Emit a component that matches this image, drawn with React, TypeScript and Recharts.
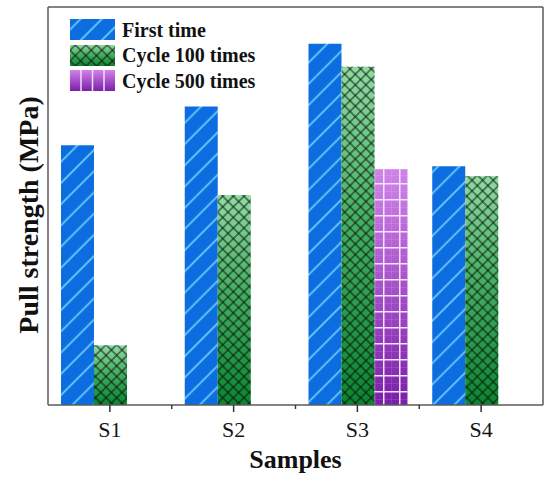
import React from 'react';
import { BarChart, Bar, XAxis, YAxis, Legend } from 'recharts';

const categories = ['S1', 'S2', 'S3', 'S4'];
const firstTime = [2.61, 3.0, 3.63, 2.4];
const cycle100 = [0.6, 2.11, 3.4, 2.3];
const cycle500: (number | null)[] = [null, null, 2.37, null];
const seriesNames = ['First time', 'Cycle 100 times', 'Cycle 500 times'];
const yDomain: [number, number] = [0, 4];

const data = categories.map((name, i) => ({
  name,
  first: firstTime[i],
  c100: cycle100[i],
  c500: cycle500[i],
}));

const SERIF = '"Liberation Serif", "Times New Roman", Times, serif';
const FRAME = '#5a5a5a';

const GreenShape = (props: any) => {
  const { x, y, width, height } = props;
  if (!height || height <= 0) return null;
  return (
    <g>
      <rect x={x} y={y} width={width} height={height} fill="url(#greenGrad)" />
      <rect x={x} y={y} width={width} height={height} fill="url(#crossPat)" />
    </g>
  );
};

const PurpleShape = (props: any) => {
  const { x, y, width, height } = props;
  if (!height || height <= 0) return null;
  return (
    <g>
      <rect x={x} y={y} width={width} height={height} fill="url(#purpleGrad)" />
      <rect x={x} y={y} width={width} height={height} fill="url(#gridPat)" />
    </g>
  );
};

const XTick = (props: any) => {
  const { x, y, payload, index } = props;
  const off = payload && payload.offset ? payload.offset : 62;
  return (
    <g>
      <text x={x} y={y + 23} textAnchor="middle" fontFamily={SERIF} fontSize={22} fill="#151515">
        {payload.value}
      </text>
      {index > 0 && (
        <line x1={x - off} x2={x - off} y1={y - 9} y2={y - 5} stroke="#333" strokeWidth={1.4} />
      )}
    </g>
  );
};

const XLabel = (p: any) => {
  const vb = p && p.viewBox ? p.viewBox : { x: 48, y: 405, width: 495, height: 79 };
  return (
    <text
      x={vb.x + vb.width / 2}
      y={vb.y + 63}
      textAnchor="middle"
      fontFamily={SERIF}
      fontWeight="bold"
      fontSize={26}
      fill="#111"
    >
      Samples
    </text>
  );
};

const YLabel = (p: any) => {
  const vb = p && p.viewBox ? p.viewBox : { x: 47, y: 7, width: 1, height: 398 };
  const cx = vb.x + vb.width - 10;
  const cy = vb.y + vb.height / 2 + 9;
  return (
    <text
      x={cx}
      y={cy}
      transform={`rotate(-90, ${cx}, ${cy})`}
      textAnchor="middle"
      fontFamily={SERIF}
      fontWeight="bold"
      fontSize={28}
      fill="#111"
    >
      Pull strength (MPa)
    </text>
  );
};

const swatchFills = ['blue', 'green', 'purple'];

const LegendContent = () => (
  <div style={{ fontFamily: SERIF }}>
    {seriesNames.map((n, i) => (
      <div key={n} style={{ display: 'flex', alignItems: 'center', height: 25.5 }}>
        <svg width={45} height={21} style={{ display: 'block' }}>
          {swatchFills[i] === 'blue' && <rect x={0} y={0} width={45} height={21} fill="url(#bluePat)" />}
          {swatchFills[i] === 'green' && (
            <g>
              <rect x={0} y={0} width={45} height={21} fill="url(#greenGrad)" />
              <rect x={0} y={0} width={45} height={21} fill="url(#crossPat)" />
            </g>
          )}
          {swatchFills[i] === 'purple' && (
            <g>
              <rect x={0} y={0} width={45} height={21} fill="url(#purpleGrad)" />
              <line x1={11} x2={11} y1={0} y2={21} stroke="#f3dcff" strokeWidth={1.5} />
              <line x1={22.5} x2={22.5} y1={0} y2={21} stroke="#f3dcff" strokeWidth={1.5} />
              <line x1={34} x2={34} y1={0} y2={21} stroke="#f3dcff" strokeWidth={1.5} />
            </g>
          )}
        </svg>
        <span style={{ marginLeft: 7, fontSize: 20, fontWeight: 'bold', color: '#111', lineHeight: '20px' }}>{n}</span>
      </div>
    ))}
  </div>
);

export default function App() {
  return (
    <div style={{ position: 'absolute', left: 0, top: 0, width: 550, height: 484, background: '#fff' }}>
      <BarChart
        width={550}
        height={484}
        data={data}
        margin={{ top: 6, right: 6, bottom: 0, left: 47 }}
        barCategoryGap="10.5%"
        barGap={0}
      >
        <defs>
          <pattern id="bluePat" patternUnits="userSpaceOnUse" width="15" height="15" patternTransform="rotate(45)">
            <rect x="0" y="0" width="15" height="15" fill="#0b6ddf" />
            <line x1="7.5" y1="0" x2="7.5" y2="15" stroke="#79d3ff" strokeWidth="1.6" />
          </pattern>
          <linearGradient id="greenGrad" x1="0" y1="0" x2="0" y2="1">
            <stop offset="0" stopColor="#8fdca3" />
            <stop offset="0.45" stopColor="#45b062" />
            <stop offset="1" stopColor="#0a8530" />
          </linearGradient>
          <pattern id="crossPat" patternUnits="userSpaceOnUse" width="7.5" height="7.5" patternTransform="rotate(45)">
            <line x1="3.75" y1="0" x2="3.75" y2="7.5" stroke="#0a0a0a" strokeWidth="0.9" />
            <line x1="0" y1="3.75" x2="7.5" y2="3.75" stroke="#0a0a0a" strokeWidth="0.9" />
          </pattern>
          <linearGradient id="purpleGrad" x1="0" y1="0" x2="0" y2="1">
            <stop offset="0" stopColor="#d084e8" />
            <stop offset="1" stopColor="#7a1fa8" />
          </linearGradient>
          <pattern id="gridPat" patternUnits="userSpaceOnUse" x="15" y="7" width="16" height="16">
            <line x1="0.75" y1="0" x2="0.75" y2="16" stroke="#f6e2ff" strokeWidth="1.5" />
            <line x1="0" y1="0.75" x2="16" y2="0.75" stroke="#f6e2ff" strokeWidth="1.5" />
            <line x1="8.5" y1="0" x2="8.5" y2="16" stroke="#f6e2ff" strokeWidth="0.6" strokeOpacity="0.2" />
            <line x1="0" y1="8.5" x2="16" y2="8.5" stroke="#f6e2ff" strokeWidth="0.6" strokeOpacity="0.2" />
          </pattern>
        </defs>
        <XAxis
          dataKey="name"
          height={79}
          axisLine={{ stroke: FRAME, strokeWidth: 1.5 }}
          tickLine={{ stroke: '#333', strokeWidth: 1.5 }}
          tickSize={7}
          tickMargin={2}
          tick={<XTick />}
          interval={0}
          label={XLabel}
        />
        <XAxis
          xAxisId="top"
          dataKey="name"
          orientation="top"
          height={1}
          tick={false}
          tickLine={false}
          axisLine={{ stroke: FRAME, strokeWidth: 1.5 }}
        />
        <YAxis
          width={1}
          domain={yDomain}
          tick={false}
          tickLine={false}
          axisLine={{ stroke: FRAME, strokeWidth: 1.5 }}
          label={YLabel}
        />
        <YAxis
          yAxisId="right"
          orientation="right"
          width={1}
          domain={yDomain}
          tick={false}
          tickLine={false}
          axisLine={{ stroke: FRAME, strokeWidth: 1.5 }}
        />
        <Legend
          layout="vertical"
          align="center"
          verticalAlign="middle"
          content={<LegendContent />}
          wrapperStyle={{ top: 17, left: 70, width: 'auto' }}
        />
        <Bar dataKey="first" name={seriesNames[0]} fill="url(#bluePat)" isAnimationActive={false} />
        <Bar dataKey="c100" name={seriesNames[1]} fill="#3aa85a" shape={<GreenShape />} isAnimationActive={false} />
        <Bar dataKey="c500" name={seriesNames[2]} fill="#a040c8" shape={<PurpleShape />} isAnimationActive={false} />
      </BarChart>
    </div>
  );
}
